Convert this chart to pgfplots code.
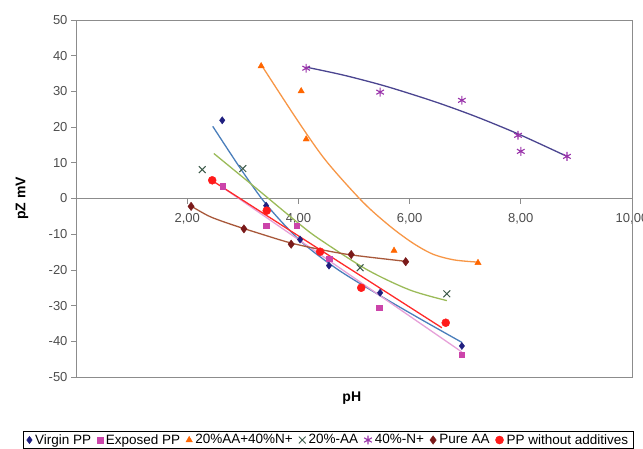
\documentclass[border=0pt]{standalone}
\usepackage{pgfplots}
\pgfplotsset{compat=1.18}
\usepackage{fontspec}
\setmainfont{Liberation Sans}

\definecolor{axisgray}{HTML}{8C8C8C}
\definecolor{ticktext}{HTML}{4D4D4D}
\definecolor{virginM}{HTML}{1F1F7F}
\definecolor{virginL}{HTML}{4A7EBB}
\definecolor{exposedM}{HTML}{CC44AA}
\definecolor{exposedL}{HTML}{E6A0D8}
\definecolor{orangeM}{HTML}{FF6600}
\definecolor{orangeL}{HTML}{F79646}
\definecolor{aaM}{HTML}{3C5A4A}
\definecolor{aaL}{HTML}{9BBB59}
\definecolor{nM}{HTML}{9933AA}
\definecolor{nL}{HTML}{4B4590}
\definecolor{pureM}{HTML}{7A1A1A}
\definecolor{pureL}{HTML}{A8583A}
\definecolor{redM}{HTML}{FF1A1A}
\definecolor{redL}{HTML}{FF2A2A}

\begin{document}
\begin{tikzpicture}
\path[use as bounding box] (0,0) rectangle (643pt,448pt);
\begin{axis}[
    at={(76pt,71pt)}, anchor=south west,
    scale only axis, width=556pt, height=357pt,
    xmin=0, xmax=10, ymin=-50, ymax=50,
    axis x line=middle, axis y line=left,
    axis line style={-, draw=axisgray, line width=0.8pt},
    xtick={2,4,6,8,10},
    xticklabels={{2,00},{4,00},{6,00},{8,00},{10,00}},
    ytick={-50,-40,...,50},
    tick align=outside,
    major tick length=5pt,
    tick style={draw=axisgray, line width=0.8pt},
    /pgf/number format/assume math mode=true,
    tick label style={font=\fontsize{13}{15}\selectfont, text=ticktext},
    xticklabel style={yshift=-6pt},
    clip=false,
    xlabel={pH}, ylabel={pZ mV},
    every axis x label/.style={at={(axis description cs:0.496,-0.059)}, anchor=center, font=\bfseries\fontsize{14}{16}\selectfont},
    every axis y label/.style={at={(axis description cs:-0.097,0.5)}, anchor=center, rotate=90, font=\bfseries\fontsize{14}{16}\selectfont},
    legend columns=-1,
    legend style={at={(axis description cs:0.454,-0.1765)}, anchor=center,
        draw=black, line width=0.5pt, font=\fontsize{13.5}{15}\selectfont,
        inner xsep=3pt, inner ysep=1pt,
        /tikz/every odd column/.append style={column sep=1pt},
        /tikz/every even column/.append style={column sep=4pt}},
    legend image code/.code={\draw[#1] plot coordinates {(3pt,0pt)};},
    after end axis/.code={\draw[axisgray, line width=0.8pt] (rel axis cs:0,0) rectangle (rel axis cs:1,1);},
]

% trend lines
\addplot[virginL, line width=1.3pt, smooth, forget plot] coordinates {
    (2.46,20.2) (2.98,7.9) (3.43,-1.8) (4.03,-11.8) (4.7,-19.8) (5.47,-27.2) (6.2,-33.8) (6.94,-40.3)};
\addplot[exposedL, line width=1.3pt, forget plot] coordinates {(2.62,3.3) (6.94,-43.0)};
\addplot[orangeL, line width=1.3pt, smooth, forget plot] coordinates {
    (3.33,37.5) (4.0,21.5) (4.5,10.5) (5.16,-1) (5.65,-7.8) (6.06,-12.5) (6.42,-15.6) (6.8,-17.2) (7.21,-17.8)};
\addplot[aaL, line width=1.3pt, smooth, forget plot] coordinates {
    (2.48,12.6) (3.2,3.4) (4.03,-7.3) (4.39,-11.5) (5.23,-19.9) (6.0,-25.6) (6.67,-28.6)};
\addplot[nL, line width=1.3pt, smooth, forget plot] coordinates {
    (4.14,36.8) (4.8,34.6) (5.47,31.9) (6.0,29.4) (6.55,26.6) (7.2,22.9) (7.95,18.1) (8.83,11.8)};
\addplot[pureL, line width=1.3pt, smooth, forget plot] coordinates {
    (2.08,-2.2) (2.4,-5.0) (2.8,-7.3) (3.3,-9.8) (3.85,-12.4) (4.4,-14.3) (4.95,-15.8) (5.93,-17.6)};
\addplot[redL, line width=1.3pt, forget plot] coordinates {(2.44,5.1) (6.58,-36.2)};

% measured points
\addplot[only marks, mark=diamond*, mark size=3.6pt, color=virginM] coordinates {
    (2.63,21.9) (3.42,-2.0) (4.03,-11.5) (4.55,-18.8) (5.47,-26.4) (6.94,-41.3)};
\addlegendentry{Virgin PP}
\addplot[only marks, mark=square*, mark size=2.8pt, color=exposedM] coordinates {
    (2.64,3.4) (3.42,-7.6) (3.97,-7.6) (4.55,-16.9) (5.45,-30.6) (6.94,-43.8)};
\addlegendentry{Exposed PP}
\addplot[only marks, mark=triangle*, mark size=3.6pt, color=orangeM] coordinates {
    (3.33,37.1) (4.05,30.1) (4.14,16.6) (5.72,-14.6) (7.23,-18.0)};
\addlegendentry{20\%AA+40\%N+}
\addplot[only marks, mark=x, mark size=4.8pt, line width=1pt, color=aaM] coordinates {
    (2.27,8.1) (3.0,8.4) (5.11,-19.4) (6.67,-26.7)};
\addlegendentry{20\%-AA}
\addplot[only marks, mark=asterisk, mark size=4.4pt, line width=1.1pt, color=nM] coordinates {
    (4.14,36.5) (5.47,29.8) (6.94,27.5) (7.95,17.7) (8.0,13.2) (8.83,11.8)};
\addlegendentry{40\%-N+}
\addplot[only marks, mark=diamond*, mark size=4.2pt, color=pureM] coordinates {
    (2.07,-2.2) (3.02,-8.5) (3.87,-12.8) (4.95,-15.7) (5.93,-17.7)};
\addlegendentry{Pure AA}
\addplot[only marks, mark=*, mark size=4pt, color=redM] coordinates {
    (2.45,5.1) (3.43,-3.4) (4.39,-14.9) (5.13,-25.0) (6.65,-34.8)};
\addlegendentry{PP without additives}
\end{axis}
\end{tikzpicture}
\end{document}
